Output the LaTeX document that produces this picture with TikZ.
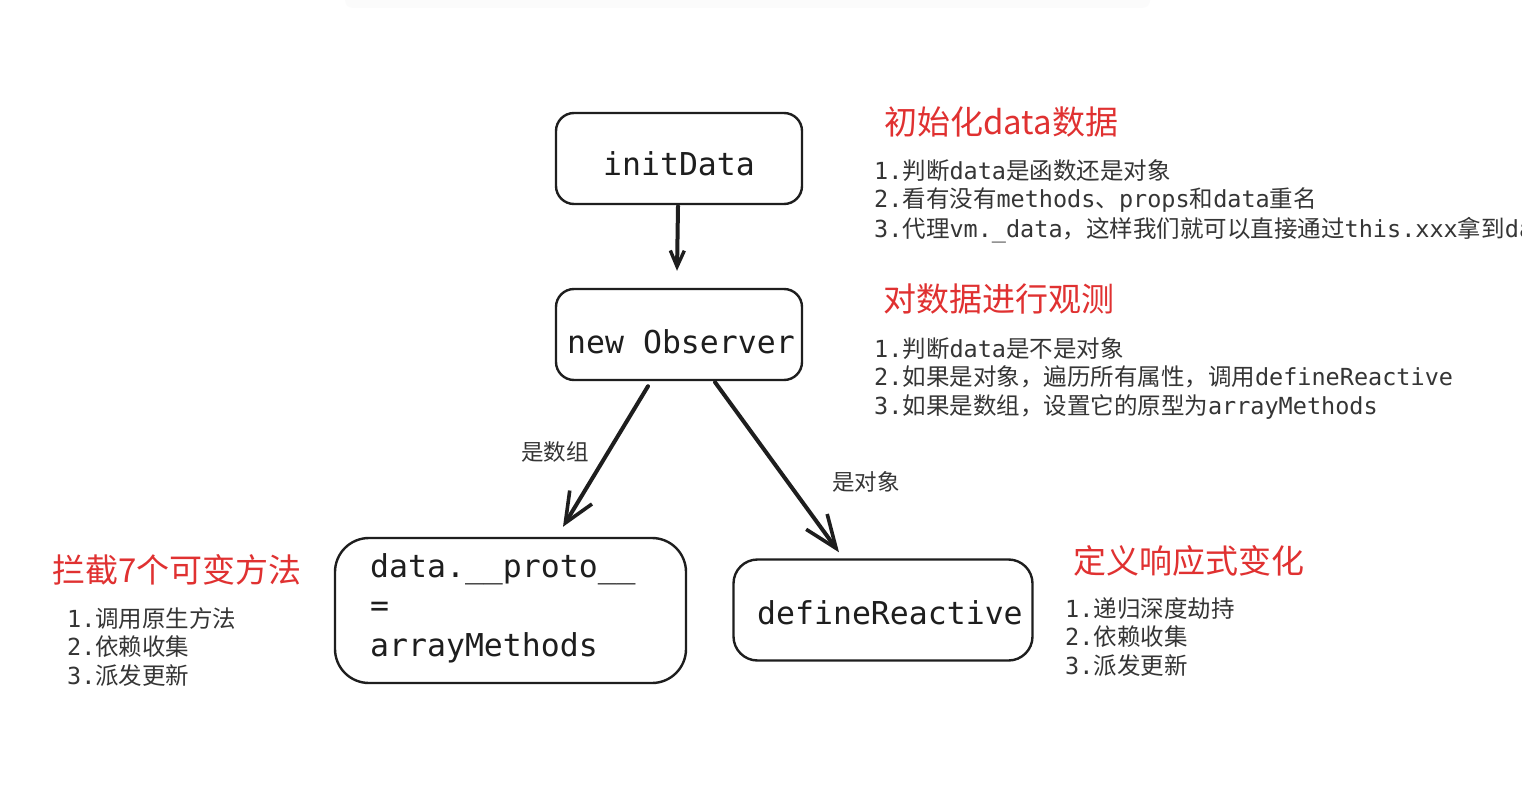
\documentclass[tikz,border=0pt]{standalone}
\usepackage{fontspec}
\setmainfont{Noto Sans CJK SC}
\setmonofont{DejaVu Sans Mono}
\newfontfamily\cjk{Noto Sans CJK SC}
\usetikzlibrary{arrows.meta}
\definecolor{ink}{HTML}{1E1E1E}
\definecolor{redt}{HTML}{E03131}
\newcommand{\zh}[1]{{\cjk #1}}
\begin{document}
\begin{tikzpicture}[x=1pt,y=-1pt,
  box/.style={draw=ink,line width=2.4pt,inner sep=0pt,fill=white},
  boxtxt/.style={inner sep=0pt,text=ink,font=\ttfamily\fontsize{31.5}{38}\selectfont},
  listtxt/.style={inner sep=0pt,text=ink!90,anchor=base west,font=\ttfamily\fontsize{23.5}{28}\selectfont},
  titletxt/.style={inner sep=0pt,text=redt,anchor=base west,font=\cjk\fontsize{33}{38}\selectfont},
  edgetxt/.style={inner sep=0pt,text=ink!90,anchor=base west,font=\cjk\fontsize{22.5}{26}\selectfont},
  arr/.style={draw=ink,line width=4pt,line cap=round},
  ]
\useasboundingbox (0,0) rectangle (1522,802);
\fill[white] (0,0) rectangle (1522,802);
\fill[black!1.5,rounded corners=8pt] (345,-12) rectangle (1150,8);

% boxes
\node[box,rounded corners=18pt,minimum width=246pt,minimum height=91pt] (init) at (679,158.5) {};
\node[boxtxt,anchor=base] (initT) at (679,176) {initData};

\node[box,rounded corners=18pt,minimum width=246pt,minimum height=91pt] (obs) at (679,334.5) {};
\node[boxtxt,anchor=base] (obsT) at (681,353) {new Observer};

\node[box,rounded corners=34pt,minimum width=351pt,minimum height=145pt] (arrm) at (510.5,610.5) {};
\node[boxtxt,anchor=base west] (arrT1) at (370,577) {data.\_\_proto\_\_};
\node[boxtxt,anchor=base west] (arrT2) at (370,616.5) {=};
\node[boxtxt,anchor=base west] (arrT3) at (370,656) {arrayMethods};

\node[box,rounded corners=24pt,minimum width=299pt,minimum height=101pt] (def) at (883,610) {};
\node[boxtxt,anchor=base west] (defT) at (757,624) {defineReactive};

% connectors
\draw[arr,-{Straight Barb[length=16pt,width=14pt,line width=3.4pt]}]
  ([xshift=-1pt,yshift=-1pt]init.south) -- ([xshift=-2pt,yshift=17pt]obs.north);
\draw[arr,-{Straight Barb[length=30pt,width=26pt,line width=3.6pt]}]
  ([xshift=-31pt,yshift=-5pt]obs.south) -- ([xshift=52.5pt,yshift=10pt]arrm.north);
\draw[arr,-{Straight Barb[length=33pt,width=26pt,line width=3.6pt]}]
  ([xshift=36pt,yshift=-1pt]obs.south) -- ([xshift=-44pt,yshift=6pt]def.north);

\node[edgetxt] (lblA) at (521,460) {是数组};
\node[edgetxt] (lblB) at (832,490) {是对象};

% right annotations (top)
\node[titletxt] (t1) at (884,135) {初始化data数据};
\node[listtxt] (l11) at (874,180) {1.\zh{判断}data\zh{是函数还是对象}};
\node[listtxt] (l12) at (874,208) {2.\zh{看有没有}methods\zh{、}props\zh{和}data\zh{重名}};
\node[listtxt] (l13) at (874,237) {3.\zh{代理}vm.\_data\zh{，这样我们就可以直接通过}this.xxx\zh{拿到}da};

\node[titletxt] (t2) at (883,311) {对数据进行观测};
\node[listtxt] (l21) at (874,357) {1.\zh{判断}data\zh{是不是对象}};
\node[listtxt] (l22) at (874,385) {2.\zh{如果是对象，遍历所有属性，调用}defineReactive};
\node[listtxt] (l23) at (874,414) {3.\zh{如果是数组，设置它的原型为}arrayMethods};

% left annotations
\node[titletxt] (t3) at (52,582) {拦截7个可变方法};
\node[listtxt] (l31) at (67,627) {1.\zh{调用原生方法}};
\node[listtxt] (l32) at (67,655) {2.\zh{依赖收集}};
\node[listtxt] (l33) at (67,684) {3.\zh{派发更新}};

% right annotations (bottom)
\node[titletxt] (t4) at (1073,573) {定义响应式变化};
\node[listtxt] (l41) at (1065,617) {1.\zh{递归深度劫持}};
\node[listtxt] (l42) at (1065,645) {2.\zh{依赖收集}};
\node[listtxt] (l43) at (1065,674) {3.\zh{派发更新}};
\end{tikzpicture}
\end{document}
